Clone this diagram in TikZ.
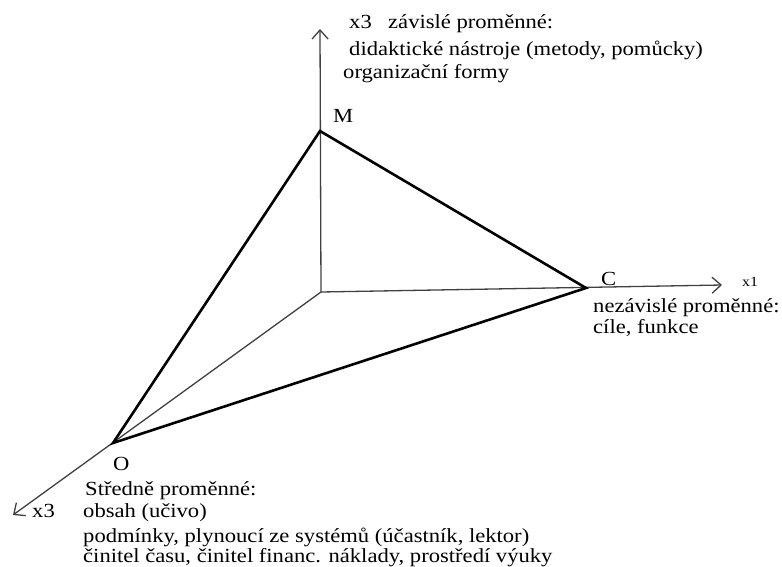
\documentclass[tikz,border=0pt]{standalone}
\usepackage{fontspec}
\setmainfont[FakeStretch=1.13]{Liberation Serif}
\usetikzlibrary{arrows.meta}

\begin{document}
\begin{tikzpicture}[x=1pt,y=-1pt,
 axis/.style={draw=black!75,line width=1.3pt,-{Straight Barb[length=9pt,width=16pt]}},
 edge/.style={line width=2.6pt,line join=miter},
 lbl/.style={anchor=base west,inner sep=0pt,font=\fontsize{20}{24}\selectfont},
 small/.style={anchor=base west,inner sep=0pt,font=\fontsize{14}{16}\selectfont}]
 \useasboundingbox (0,0) rectangle (782,566);
 \coordinate (P) at (321,292); % vertex of the axes
 \coordinate (Xe) at (722,285); \coordinate (Ye) at (320,29); \coordinate (Ze) at (13,515);
 \coordinate (M) at (320,131); \coordinate (C) at (586,288); \coordinate (O) at (113,443);
 \draw[axis] (P)--(Ye); \draw[axis] (P)--(Xe); \draw[axis] (P)--(Ze);
 \draw[edge] (M)--(C)--(O)--cycle;
 % vertical axis
 \node[lbl] (ylab) at (349,28) {x3};
 \node[lbl] (ydep) at (388,28) {závislé proměnné:};
 \node[lbl] (ytools) at (349,55) {didaktické nástroje (metody, pomůcky)};
 \node[lbl] (yforms) at (343,78) {organizační formy};
 \node[lbl] (mlab) at (333,122) {M};
 % horizontal axis
 \node[lbl] (clab) at (601,285) {C};
 \node[small] (xlab) at (742,286) {x1};
 \node[lbl] (xind) at (593,312) {nezávislé proměnné:};
 \node[lbl] (xgoals) at (593,333) {cíle, funkce};
 % diagonal axis
 \node[lbl] (olab) at (113,470) {O};
 \node[lbl] (zmid) at (85,495) {Středně proměnné:};
 \node[lbl] (zlab) at (32,517) {x3};
 \node[lbl] (zcont) at (83,517) {obsah (učivo)};
 \node[lbl] (zcond) at (83,542) {podmínky, plynoucí ze systémů (účastník, lektor)};
 \node[lbl] (ztime) at (83,562) {činitel času, činitel financ. náklady, prostředí výuky};
\end{tikzpicture}
\end{document}
